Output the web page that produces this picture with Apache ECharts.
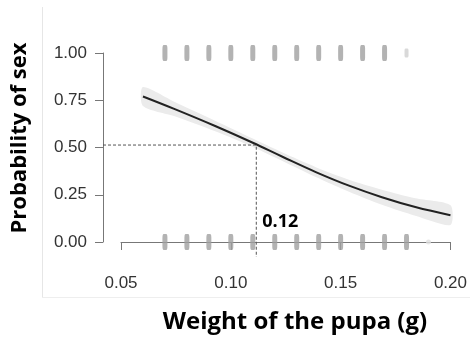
<!DOCTYPE html>
<html><head><meta charset="utf-8">
<script src="https://cdn.jsdelivr.net/npm/echarts@6/dist/echarts.min.js"></script>
<style>html,body{margin:0;padding:0;background:#fff}#c{width:470px;height:337px}</style>
</head><body><div id="c"></div>
<script>
// ---- data ----
const xTicks = [0.05, 0.10, 0.15, 0.20];
const yTicks = [0.00, 0.25, 0.50, 0.75, 1.00];
const curveX = [0.060, 0.0745, 0.0926, 0.110, 0.1235, 0.1387, 0.1538, 0.1688, 0.184, 0.200];
const curveY = [0.770, 0.703, 0.615, 0.525, 0.451, 0.370, 0.298, 0.237, 0.185, 0.142];
const bandLower = [0.720, 0.665, 0.587, 0.503, 0.429, 0.344, 0.266, 0.197, 0.139, 0.090];
const bandUpper = [0.820, 0.741, 0.643, 0.547, 0.473, 0.396, 0.330, 0.277, 0.231, 0.194];
const topX = [0.07, 0.08, 0.09, 0.10, 0.11, 0.12, 0.13, 0.14, 0.15, 0.16, 0.17];
const topFaintX = [0.18];
const bottomX = [0.07, 0.08, 0.09, 0.10, 0.11, 0.12, 0.13, 0.14, 0.15, 0.16, 0.17, 0.18];
const bottomFaintX = [0.19];
const topLevel = 1;
const bottomLevel = 0;
const cutX = 0.1116;
const cutY = 0.513;
const cutLabel = '0.12';
const xTitle = 'Weight of the pupa (g)';
const yTitle = 'Probability of sex';

// ---- chart ----
const Y_OFFSET = 18, X_OFFSET = 15;
const chart = echarts.init(document.getElementById('c'), null, {renderer: 'canvas'});
const pts = (xs, y) => xs.map(x => [x, y]);

const option = {
  animation: false,
  backgroundColor: '#fff',
  grid: {left: 121, right: 18, top: 53, bottom: 95},
  xAxis: {
    type: 'value', min: xTicks[0], max: xTicks[xTicks.length - 1], interval: 0.05,
    offset: X_OFFSET,
    axisLine: {show: true, lineStyle: {color: '#777', width: 1}},
    axisTick: {show: true, length: 8, lineStyle: {color: '#777'}},
    axisLabel: {margin: 18, fontSize: 17, color: '#333', fontFamily: '"Liberation Sans", Arial',
      formatter: v => v.toFixed(2)},
    splitLine: {show: false}
  },
  yAxis: {
    type: 'value', min: yTicks[0], max: yTicks[yTicks.length - 1], interval: 0.25,
    offset: Y_OFFSET,
    axisLine: {show: true, lineStyle: {color: '#777', width: 1}},
    axisTick: {show: true, length: 8, lineStyle: {color: '#777'}},
    axisLabel: {margin: 16, fontSize: 17, color: '#333', fontFamily: '"Liberation Sans", Arial',
      formatter: v => v.toFixed(2)},
    splitLine: {show: false}
  },
  graphic: [
    {type: 'line', shape: {x1: 42.5, y1: 7, x2: 42.5, y2: 297}, style: {stroke: '#e6e6e6', lineWidth: 1}, silent: true},
    {type: 'line', shape: {x1: 42, y1: 297.5, x2: 470, y2: 297.5}, style: {stroke: '#eeeeee', lineWidth: 1}, silent: true},
    {type: 'text', x: 20, y: 138, rotation: Math.PI / 2,
      style: {text: yTitle, font: 'bold 22px "Open Sans"', fill: '#000', textAlign: 'center', textVerticalAlign: 'middle'}},
    {type: 'text', x: 295, y: 322,
      style: {text: xTitle, font: 'bold 24px "Open Sans"', fill: '#000', textAlign: 'center', textVerticalAlign: 'middle'}}
  ],
  series: [
    {
      type: 'custom', name: 'band', z: 1, silent: true,
      data: [[curveX[0], curveY[0]]],
      renderItem: function (params, api) {
        const up = curveX.map((x, i) => api.coord([x, bandUpper[i]]));
        const lo = curveX.map((x, i) => api.coord([x, bandLower[i]])).reverse();
        return {type: 'polygon', shape: {points: up.concat(lo), smooth: 0.25}, style: {fill: '#ebebeb'}};
      }
    },
    {
      type: 'custom', name: 'cut', z: 3, silent: true, clip: false,
      data: [[cutX, cutY]],
      renderItem: function (params, api) {
        const p = api.coord([cutX, cutY]);
        const b = api.coord([cutX, bottomLevel]);
        const cs = params.coordSys;
        const leftX = cs.x - Y_OFFSET;
        const bottomY = cs.y + cs.height + X_OFFSET;
        return {
          type: 'group',
          children: [
            {type: 'polyline', shape: {points: [[leftX, p[1]], [p[0], p[1]], [p[0], bottomY]]},
              style: {stroke: '#555', lineWidth: 1, lineDash: [3, 2], fill: null}},
            {type: 'text', x: p[0] + 6, y: b[1] - 20,
              style: {text: cutLabel, font: 'bold 18px "Open Sans"', fill: '#000', textAlign: 'left', textVerticalAlign: 'middle'}}
          ]
        };
      }
    },
    {
      type: 'line', name: 'fit', z: 4, data: curveX.map((x, i) => [x, curveY[i]]),
      smooth: 0.4, showSymbol: false, lineStyle: {color: '#222', width: 2}
    },
    {
      type: 'scatter', z: 2, data: pts(topX, topLevel).concat(pts(bottomX, bottomLevel)),
      symbol: 'roundRect', symbolSize: [5, 16], itemStyle: {color: '#a0a0a0'}
    },
    {
      type: 'scatter', z: 2, data: pts(topFaintX, topLevel),
      symbol: 'roundRect', symbolSize: [4, 9], itemStyle: {color: '#cfcfcf'}
    },
    {
      type: 'scatter', z: 2, data: pts(bottomFaintX, bottomLevel),
      symbol: 'circle', symbolSize: 5, itemStyle: {color: '#e0e0e0'}
    }
  ]
};
chart.setOption(option);
</script>
</body></html>
